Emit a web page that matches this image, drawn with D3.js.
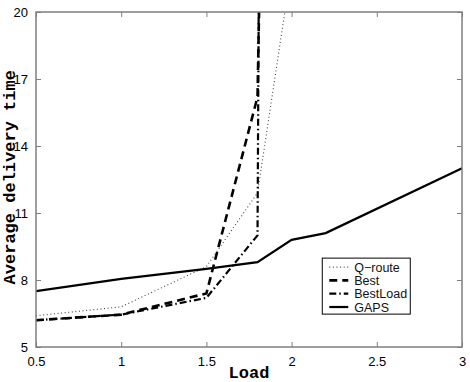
<!DOCTYPE html>
<html>
<head>
<meta charset="utf-8">
<script src="https://cdn.jsdelivr.net/npm/d3@7"></script>
<style>
  html, body { margin: 0; padding: 0; background: #fff; }
  svg { display: block; }
  .tick text { font-family: "Liberation Sans", Arial, sans-serif; font-size: 13px; fill: #000; }
  .axis-title { font-family: "Liberation Mono", "Courier New", monospace; font-weight: bold; font-size: 17px; fill: #000; }
  .legend text { font-family: "Liberation Sans", Arial, sans-serif; font-size: 12.5px; fill: #111; }
</style>
</head>
<body>
<div id="chart"></div>
<script>
// ── Data ─────────────────────────────────────────────────────────────────
const seriesNames = ["Q\u2212route", "Best", "BestLoad", "GAPS"];

const qrouteLoad   = [0.5, 1, 1.5, 1.8, 2];
const qrouteTime   = [6.4, 6.8, 8.6, 11.9, 22];

const bestLoad     = [0.5, 1, 1.5, 1.8, 2];
const bestTime     = [6.2, 6.45, 7.4, 16.2, 100];

const bestLoadLoad = [0.5, 1, 1.5, 1.8, 2];
const bestLoadTime = [6.2, 6.45, 7.2, 10, 300];

const gapsLoad     = [0.5, 1, 1.5, 1.8, 2, 2.2, 3];
const gapsTime     = [7.5, 8.05, 8.5, 8.8, 9.8, 10.1, 13];

const xTicks = [0.5, 1, 1.5, 2, 2.5, 3];
const yTicks = [5, 8, 11, 14, 17, 20];

// ── Layout ───────────────────────────────────────────────────────────────
const totalW = 470, totalH = 382;
const margin = { top: 12, right: 8, bottom: 35, left: 36 };
const W = totalW - margin.left - margin.right;
const H = totalH - margin.top - margin.bottom;

const svg = d3.select("#chart").append("svg")
  .attr("width", totalW)
  .attr("height", totalH);

const g = svg.append("g")
  .attr("transform", `translate(${margin.left},${margin.top})`);

const x = d3.scaleLinear().domain([0.5, 3]).range([0, W]);
const y = d3.scaleLinear().domain([5, 20]).range([H, 0]);

svg.append("defs").append("clipPath").attr("id", "plot-clip")
  .append("rect").attr("width", W).attr("height", H);

// ── Series ───────────────────────────────────────────────────────────────
const zip = (xs, ys) => xs.map((v, i) => ({ load: v, time: ys[i] }));

const series = [
  { name: seriesNames[0], pts: zip(qrouteLoad, qrouteTime),     width: 1.1, dash: "1,2.6",     color: "#444" },
  { name: seriesNames[1], pts: zip(bestLoad, bestTime),         width: 2.6, dash: "8,5",       color: "#000" },
  { name: seriesNames[2], pts: zip(bestLoadLoad, bestLoadTime), width: 2.2, dash: "7,3,1.5,3", color: "#000" },
  { name: seriesNames[3], pts: zip(gapsLoad, gapsTime),         width: 2.2, dash: null,        color: "#000" },
];

const line = d3.line()
  .x(d => x(d.load))
  .y(d => y(d.time));

const plot = g.append("g").attr("clip-path", "url(#plot-clip)");

series.forEach(s => {
  plot.append("path")
    .datum(s.pts)
    .attr("fill", "none")
    .attr("stroke", s.color)
    .attr("stroke-width", s.width)
    .attr("stroke-dasharray", s.dash)
    .attr("d", line);
});

// ── Frame & axes (ticks inward on all four sides) ────────────────────────
const frameColor = "#7f7f7f";

const styleAxis = sel => {
  sel.select(".domain").remove();
  sel.selectAll(".tick line").attr("stroke", frameColor);
};

g.append("g")
  .attr("transform", `translate(0,${H})`)
  .call(d3.axisBottom(x).tickValues(xTicks).tickSizeInner(-5).tickSizeOuter(0).tickPadding(10)
    .tickFormat(d => d))
  .call(styleAxis);

g.append("g")
  .call(d3.axisTop(x).tickValues(xTicks).tickSizeInner(-5).tickSizeOuter(0).tickFormat(""))
  .call(styleAxis);

g.append("g")
  .call(d3.axisLeft(y).tickValues(yTicks).tickSizeInner(-5).tickSizeOuter(0).tickPadding(8)
    .tickFormat(d => d))
  .call(styleAxis);

g.append("g")
  .attr("transform", `translate(${W},0)`)
  .call(d3.axisRight(y).tickValues(yTicks).tickSizeInner(-5).tickSizeOuter(0).tickFormat(""))
  .call(styleAxis);

g.append("rect")
  .attr("width", W).attr("height", H)
  .attr("fill", "none")
  .attr("stroke", frameColor)
  .attr("stroke-width", 1.5);

// axis titles
g.append("text")
  .attr("class", "axis-title")
  .attr("x", x(1.75)).attr("y", H + 31)
  .attr("text-anchor", "middle")
  .text("Load");

g.append("text")
  .attr("class", "axis-title")
  .attr("transform", "rotate(-90)")
  .attr("x", -y(12.6)).attr("y", -21)
  .attr("text-anchor", "middle")
  .text("Average delivery time");

// ── Legend ───────────────────────────────────────────────────────────────
const legend = g.append("g")
  .attr("class", "legend")
  .attr("transform", `translate(${x(2.18)},${y(8.98)})`);

legend.append("rect")
  .attr("width", 88).attr("height", 56)
  .attr("fill", "#fff")
  .attr("stroke", "#000")
  .attr("stroke-width", 1);

series.forEach((s, i) => {
  const ly = 9 + i * 13.3;
  legend.append("line")
    .attr("x1", 7).attr("x2", 26)
    .attr("y1", ly).attr("y2", ly)
    .attr("stroke", s.color)
    .attr("stroke-width", s.width)
    .attr("stroke-dasharray", s.dash);
  legend.append("text")
    .attr("x", 32).attr("y", ly + 4.5)
    .text(s.name);
});
</script>
</body>
</html>
